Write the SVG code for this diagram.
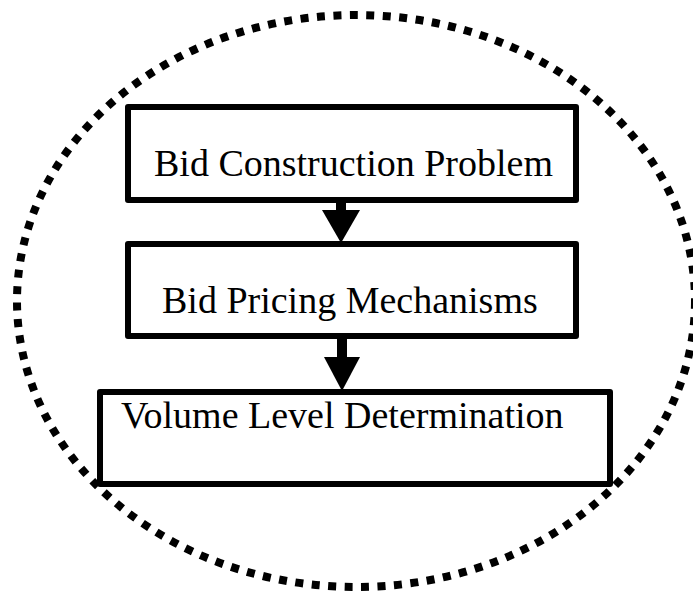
<svg xmlns="http://www.w3.org/2000/svg" width="693" height="592" viewBox="0 0 693 592">
  <defs>
    <style>
      .box { fill: #ffffff; stroke: #000000; stroke-width: 6; stroke-linejoin: round; }
      .label { font-family: "Liberation Serif", "Times New Roman", serif; font-size: 38px; fill: #000000; }
      .stem { stroke: #000000; stroke-width: 10; }
      .head { fill: #000000; }
      .ring { fill: none; stroke: #000000; stroke-width: 8; stroke-dasharray: 8 8.5; }
    </style>
  </defs>
  <rect width="693" height="592" fill="#ffffff"/>

  <!-- dotted boundary -->
  <ellipse class="ring" cx="356" cy="301" rx="339" ry="286"/>

  <!-- connectors -->
  <g id="connectors">
    <line class="stem" x1="341" y1="200" x2="341" y2="214"/>
    <polygon class="head" points="322,210 360,210 341,243"/>
    <line class="stem" x1="342" y1="336" x2="342" y2="360"/>
    <polygon class="head" points="324,357 360,357 342,391"/>
  </g>

  <g id="bid-construction">
    <rect class="box" x="128" y="107" width="448" height="93"/>
    <text class="label" x="154" y="176">Bid Construction Problem</text>
  </g>

  <g id="bid-pricing">
    <rect class="box" x="128" y="244" width="448" height="92"/>
    <text class="label" x="162" y="313">Bid Pricing Mechanisms</text>
  </g>

  <g id="volume-level">
    <rect class="box" x="100" y="392" width="510" height="92"/>
    <text class="label" x="121" y="428">Volume Level Determination</text>
  </g>
</svg>
